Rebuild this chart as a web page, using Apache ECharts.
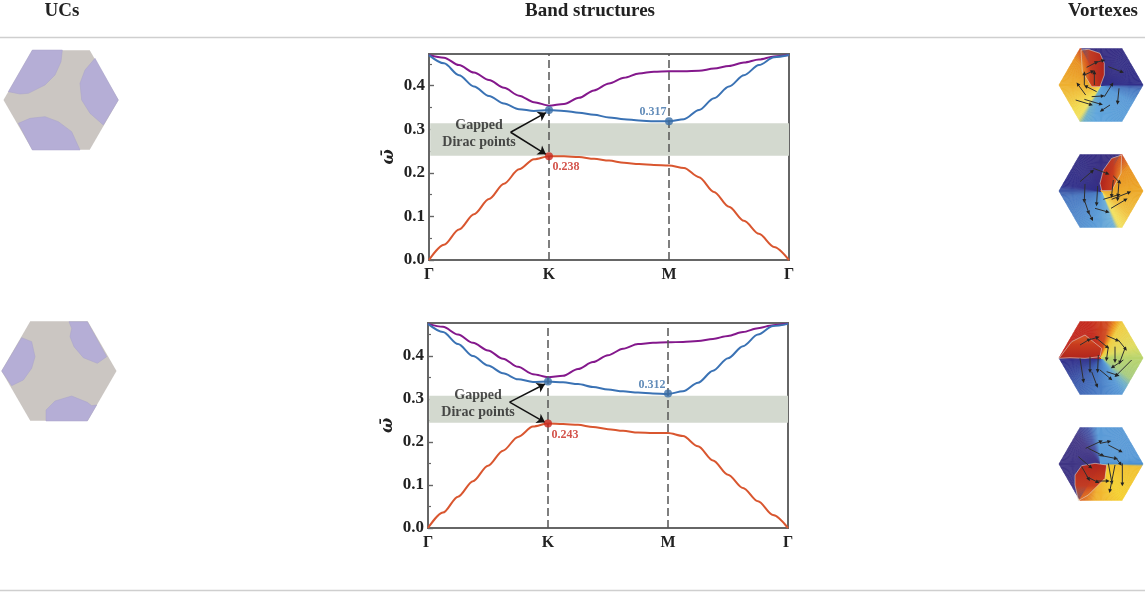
<!DOCTYPE html>
<html>
<head>
<meta charset="utf-8">
<title>Band structures</title>
<script src="https://cdn.jsdelivr.net/npm/echarts@6/dist/echarts.min.js"></script>
<style>
html,body{margin:0;padding:0;background:#fff;}
#main{width:1145px;height:592px;}
</style>
</head>
<body>
<div id="main"></div>
<script>
/*能带数据：沿 Γ-K-M-Γ 路径读取*/
var kLabels = ['Γ','K','M','Γ'];
var kPath = [0,.125,.25,.375,.5,.625,.75,.875,1,1.125,1.25,1.375,1.5,1.625,1.75,1.875,2,2.125,2.25,2.375,2.5,2.625,2.75,2.875,3];

var red1 = [0,.035,.07,.105,.14,.175,.208,.231,.238,.238,.236,.232,.228,.223,.22,.218,.217,.211,.19,.156,.122,.09,.06,.03,0];
var blue1 = [.47,.451,.424,.398,.376,.359,.346,.342,.344,.342,.338,.333,.327,.323,.32,.318,.318,.323,.344,.371,.398,.424,.447,.465,.47];
var purple1 = [.47,.464,.447,.43,.413,.395,.377,.362,.354,.358,.372,.389,.405,.418,.428,.432,.433,.433,.434,.439,.445,.453,.46,.467,.47];
var band1 = [.239,.3135];
var gap1 = [['0.317',.318],['0.238',.238]];

var red2 = [0,.036,.073,.109,.145,.18,.212,.236,.243,.242,.24,.235,.23,.226,.222,.221,.221,.214,.19,.157,.124,.093,.062,.03,0];
var blue2 = [.475,.456,.428,.4,.378,.36,.346,.34,.341,.339,.335,.328,.322,.318,.315,.313,.312,.318,.338,.366,.395,.423,.45,.47,.475];
var purple2 = [.475,.468,.45,.431,.413,.394,.375,.358,.351,.354,.37,.386,.402,.417,.428,.431,.432,.433,.435,.44,.447,.456,.465,.472,.475];
var band2 = [.245,.308];
var gap2 = [['0.312',.313],['0.243',.243]];
var blueK = [.344,.341];

var headers = ['UCs','Band structures','Vortexes'];

/*图形：六边形和小箭头（按放大图 3 倍坐标读取）*/
var ucLobes1 = [
    [[97,30],[187,30],[183,65],[165,105],[135,135],[85,160],[60,162],[25,155]],
    [[285,55],[355,180],[310,255],[270,220],[245,180],[240,130],[255,90]],
    [[55,250],[90,235],[135,230],[175,245],[215,275],[240,330],[97,330]]
];
var ucLobes2 = [
    [[207,20],[262,20],[320,125],[292,145],[250,128],[222,95],[210,65],[215,40]],
    [[65,68],[95,80],[105,125],[95,160],[70,195],[35,212],[5,168]],
    [[290,270],[262,318],[138,318],[138,285],[165,258],[215,243],[262,262],[275,272]]
];
var phase1 = [[0,'#3a4a9c'],[8,'#4a78c0'],[30,'#5a9ad6'],[100,'#5fa5dc'],[116,'#6fb0c8'],[124,'#f0e060'],[135,'#f2dc50'],[180,'#eeb030'],[225,'#e89020'],[242,'#d04a20'],[242,'#3a2f80'],[360,'#33308a']];
var phase2 = [[0,'#eca828'],[40,'#f0c040'],[60,'#f2e060'],[64,'#f2e060'],[70,'#6fb0d8'],[100,'#5a9ad6'],[170,'#4a78c0'],[180,'#3f5aa8'],[190,'#33308a'],[298,'#3a2f80'],[298,'#c83820'],[320,'#e89020'],[360,'#eca828']];
var phase3 = [[0,'#b8d46c'],[35,'#a8cc80'],[48,'#6fb0c8'],[60,'#5a9ad6'],[90,'#4a80c8'],[130,'#3f60b0'],[178,'#33308a'],[180,'#33308a'],[180,'#c02820'],[250,'#c42a1e'],[281,'#d04a20'],[293,'#ee9820'],[301,'#f0cc40'],[340,'#e0dc60'],[360,'#b8d46c']];
var phase4 = [[0,'#4a90d0'],[4,'#f0c030'],[60,'#f5d030'],[100,'#f0b030'],[122,'#d85820'],[122,'#3f3585'],[180,'#3f3585'],[230,'#453a88'],[250,'#4a5aa8'],[265,'#5a9ad6'],[350,'#5a9ad6'],[360,'#4a90d0']];
var core1 = [[108,30],[130,28],[165,40],[178,70],[178,105],[165,140],[140,140],[112,95]];
var core2 = [[230,345],[200,355],[175,390],[165,430],[170,452],[200,452],[228,400]];
var core3 = [[42,130],[75,128],[120,130],[165,125],[170,100],[120,60],[80,80]];
var core4 = [[100,557],[90,510],[90,480],[110,452],[150,445],[185,450],[180,490],[130,540]];
var arrows1 = [[125,82,152,68],[150,68,172,62],[190,80,228,95],[118,135,118,103],[148,135,148,100],[118,105,140,95],[122,165,100,135],[178,170,200,135],[140,170,170,168],[92,180,135,193],[118,178,165,192],[195,195,172,210],[222,145,218,185],[155,155,125,140]];
var arrows2 = [[105,425,140,395],[145,385,185,400],[205,408,222,425],[120,432,118,480],[158,438,155,490],[205,420,200,465],[222,425,218,475],[118,480,130,515],[150,505,185,515],[175,478,218,465],[200,478,250,458],[198,505,240,480],[130,515,140,535]];
var arrows3 = [[105,90,130,75],[130,75,155,68],[185,62,215,75],[220,75,240,100],[155,70,185,95],[190,95,185,130],[210,95,210,135],[240,100,225,140],[260,135,215,180],[235,135,205,155],[105,130,115,195],[135,125,135,165],[160,120,158,165],[140,170,155,210],[165,165,195,190],[185,170,215,180]];
var arrows4 = [[122,400,165,380],[165,385,190,380],[190,390,225,408],[100,425,135,455],[130,400,170,420],[160,420,210,430],[210,425,225,445],[190,445,200,500],[210,450,195,525],[232,445,232,505],[110,455,130,490],[125,485,155,500],[155,498,185,498]];

var serif = '"Liberation Serif","Times New Roman",serif';
var textColor = '#222';
var frameColor = '#666';
var lineRed = '#d9562f', lineBlue = '#3a72b4', linePurple = '#84188c';
var dotRed = '#c8281e', dotBlue = '#3b6fa8';

function pairs(ys){
    return ys.map(function(y,i){ return [kPath[i],y]; });
}

/*六边形顶点*/
function hexPoints(cx,cy,r){
    var pts = [];
    for(var i=0;i<6;i++){
        var a = i*Math.PI/3;
        pts.push([cx+r*Math.cos(a),cy+r*Math.sin(a)]);
    }
    return pts;
}
function mapPts(list,ox,oy){
    return list.map(function(p){ return [ox+p[0]/3,oy+p[1]/3]; });
}
function poly(points,fill,extra){
    var el = {type:'polygon',silent:true,shape:{points:points},style:{fill:fill}};
    if(extra){ el.style.stroke = extra.stroke; el.style.lineWidth = extra.lineWidth; }
    return el;
}
function mix(c0,c1,f){
    var out = '#';
    for(var i=1;i<7;i+=2){
        var a = parseInt(c0.substr(i,2),16), b = parseInt(c1.substr(i,2),16);
        var v = Math.round(a+(b-a)*f).toString(16);
        out += v.length<2 ? '0'+v : v;
    }
    return out;
}
function phaseColor(stops,deg){
    for(var i=0;i<stops.length-1;i++){
        if(deg>=stops[i][0] && deg<=stops[i+1][0] && stops[i+1][0]>stops[i][0]){
            return mix(stops[i][1],stops[i+1][1],(deg-stops[i][0])/(stops[i+1][0]-stops[i][0]));
        }
    }
    return stops[stops.length-1][1];
}
function edgePoint(cx,cy,r,deg){
    var a = deg*Math.PI/180, h = r*Math.sqrt(3)/2;
    var m = Math.max(Math.abs(Math.sin(a)),Math.abs(Math.cos(a-Math.PI/6)),Math.abs(Math.cos(a-5*Math.PI/6)));
    return [cx+h/m*Math.cos(a),cy+h/m*Math.sin(a)];
}

var graphics = [];

/*标题和分隔线*/
[[62,headers[0]],[590,headers[1]],[1103,headers[2]]].forEach(function(h){
    graphics.push({type:'text',silent:true,x:h[0],y:11,style:{text:h[1],fill:textColor,font:'bold 19px '+serif,textAlign:'center',textVerticalAlign:'middle'}});
});
[[37.5],[590.5]].forEach(function(r){
    graphics.push({type:'line',silent:true,shape:{x1:0,y1:r[0],x2:1145,y2:r[0]},style:{stroke:'#cfcfcf',lineWidth:1.5}});
});

/*左侧单胞*/
function addUC(cx,cy,r,ox,oy,lobes){
    graphics.push(poly(hexPoints(cx,cy,r),'#cbc6c2'));
    lobes.forEach(function(l){
        graphics.push(poly(mapPts(l,ox,oy),'#b5aed6',{stroke:'#a9a3cb',lineWidth:.5}));
    });
}
addUC(61,100,57.5,0,40,ucLobes1);
addUC(59,371,57.5,0,315,ucLobes2);

/*右侧涡旋*/
function addVortex(cx,cy,r,ox,oy,stops,core,coreFrom,coreTo,arrows){
    for(var d=0;d<360;d+=2){
        var c = phaseColor(stops,d+1);
        graphics.push(poly([[cx,cy],edgePoint(cx,cy,r,d),edgePoint(cx,cy,r,d+2)],c,{stroke:c,lineWidth:.6}));
    }
    var pts = mapPts(core,ox,oy);
    graphics.push(poly(pts,{
        type:'linear',x:coreFrom[0],y:coreFrom[1],x2:coreTo[0],y2:coreTo[1],
        colorStops:[{offset:0,color:'rgba(176,36,28,1)'},{offset:.6,color:'rgba(200,60,30,.95)'},{offset:1,color:'rgba(232,130,32,.25)'}]
    },{stroke:'rgba(225,225,215,.7)',lineWidth:.8}));
    arrows.forEach(function(a){
        var x1 = ox+a[0]/3, y1 = oy+a[1]/3, x2 = ox+a[2]/3, y2 = oy+a[3]/3;
        var t = Math.atan2(y2-y1,x2-x1), s = 3;
        graphics.push({type:'line',silent:true,shape:{x1:x1,y1:y1,x2:x2,y2:y2},style:{stroke:'#2f2f2f',lineWidth:1}});
        graphics.push(poly([[x2+s*Math.cos(t),y2+s*Math.sin(t)],[x2+s*.7*Math.cos(t+2),y2+s*.7*Math.sin(t+2)],[x2+s*.7*Math.cos(t-2),y2+s*.7*Math.sin(t-2)]],'#222'));
    });
}
addVortex(1101,85,42,1045,40,phase1,core1,[1,.5],[0,.5],arrows1);
addVortex(1101,191,42,1045,40,phase2,core2,[0,.5],[1,.5],arrows2);
addVortex(1101,358,42,1045,315,phase3,core3,[.5,1],[.5,0],arrows3);
addVortex(1101,464,42,1045,315,phase4,core4,[.5,0],[.5,1],arrows4);

/*能带图*/
var grids = [
    {left:429,top:54,width:360,height:206,yMax:.4725},
    {left:428,top:323,width:360,height:205,yMax:.477}
];
var bandSets = [
    {red:red1,blue:blue1,purple:purple1,band:band1,gap:gap1,labelM:[-16,-9],labelK:[17,11],textY:.289,arrowY:.293,arrowUp:.338,arrowDown:.2425},
    {red:red2,blue:blue2,purple:purple2,band:band2,gap:gap2,labelM:[-16,-9],labelK:[17,11],textY:.288,arrowY:.293,arrowUp:.335,arrowDown:.246}
];

var option = {
    animation:false,
    backgroundColor:'#fff',
    graphic:{elements:graphics},
    grid:[],xAxis:[],yAxis:[],series:[]
};

grids.forEach(function(g,i){
    var s = bandSets[i];
    option.grid.push({left:g.left,top:g.top,width:g.width,height:g.height,show:true,borderColor:frameColor,borderWidth:2,backgroundColor:'transparent'});
    option.xAxis.push({
        type:'value',gridIndex:i,min:0,max:3,interval:1,
        axisLine:{lineStyle:{color:frameColor,width:2}},
        axisTick:{show:false},
        splitLine:{show:false},
        axisLabel:{color:textColor,fontFamily:serif,fontWeight:'bold',fontSize:16,margin:7,
            formatter:function(v){ return kLabels[v]; }}
    });
    option.yAxis.push({
        type:'value',gridIndex:i,min:0,max:g.yMax,interval:.1,
        name:'ω̄',nameLocation:'middle',nameGap:32,nameRotate:90,
        nameTextStyle:{color:textColor,fontFamily:'"DejaVu Serif",serif',fontWeight:'bold',fontStyle:'italic',fontSize:16},
        axisLine:{lineStyle:{color:frameColor,width:2}},
        axisTick:{inside:true,length:5,lineStyle:{color:frameColor,width:1.4}},
        minorTick:{show:true,splitNumber:2,length:3,lineStyle:{color:frameColor,width:1.2}},
        splitLine:{show:false},
        axisLabel:{color:textColor,fontFamily:serif,fontWeight:'bold',fontSize:17,margin:4,showMaxLabel:false,
            formatter:function(v){ return v>.45 ? '' : v.toFixed(1); }}
    });

    /*带隙和虚线*/
    option.series.push({
        type:'line',xAxisIndex:i,yAxisIndex:i,data:[],z:1,silent:true,
        markArea:{silent:true,itemStyle:{color:'#d3d9cf'},data:[[{coord:[0.01,s.band[1]]},{coord:[3,s.band[0]]}]]}
    });
    option.series.push({
        type:'line',xAxisIndex:i,yAxisIndex:i,data:[],z:2,silent:true,
        markLine:{silent:true,symbol:'none',label:{show:false},
            lineStyle:{color:'#555',type:[8,4],width:1.5},
            data:[[{coord:[1,0]},{coord:[1,g.yMax]}],[{coord:[2,0]},{coord:[2,g.yMax]}]]}
    });

    [[s.purple,linePurple],[s.blue,lineBlue],[s.red,lineRed]].forEach(function(b){
        option.series.push({
            type:'line',xAxisIndex:i,yAxisIndex:i,data:pairs(b[0]),smooth:.3,smoothMonotone:'x',showSymbol:false,z:3,silent:true,
            lineStyle:{color:b[1],width:2}
        });
    });

    /*标注点*/
    option.series.push({
        type:'scatter',xAxisIndex:i,yAxisIndex:i,symbolSize:8,z:5,silent:true,
        itemStyle:{color:dotBlue},
        data:[
            {value:[1,blueK[i]]},
            {value:[2,s.gap[0][1]],label:{show:true,position:'inside',offset:s.labelM,formatter:s.gap[0][0],color:dotBlue,fontFamily:serif,fontWeight:'bold',fontSize:12}}
        ]
    });
    option.series.push({
        type:'scatter',xAxisIndex:i,yAxisIndex:i,symbolSize:8,z:5,silent:true,
        itemStyle:{color:dotRed},
        data:[{value:[1,s.gap[1][1]],label:{show:true,position:'inside',offset:s.labelK,formatter:s.gap[1][0],color:dotRed,fontFamily:serif,fontWeight:'bold',fontSize:12}}]
    });

    /*Gapped Dirac points 和箭头*/
    option.series.push({
        type:'scatter',xAxisIndex:i,yAxisIndex:i,symbolSize:0,z:6,silent:true,
        data:[{value:[.417,s.textY],label:{show:true,position:'inside',formatter:'Gapped\nDirac points',color:textColor,fontFamily:serif,fontWeight:'bold',fontSize:14,lineHeight:17,align:'center'}}],
        markLine:{silent:true,symbol:['none','arrow'],symbolSize:8,label:{show:false},
            lineStyle:{color:'#111',type:'solid',width:1.5},
            data:[[{coord:[.68,s.arrowY]},{coord:[.975,s.arrowUp]}],[{coord:[.68,s.arrowY]},{coord:[.975,s.arrowDown]}]]}
    });
});

var myChart = echarts.init(document.getElementById('main'));
myChart.setOption(option);
</script>
</body>
</html>
